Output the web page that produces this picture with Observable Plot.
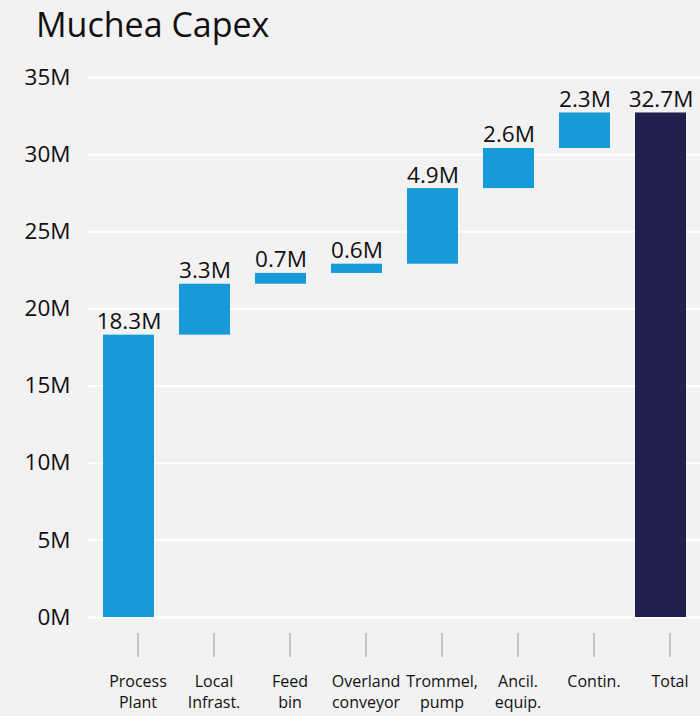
<!DOCTYPE html>
<html><head><meta charset="utf-8">
<script src="https://cdn.jsdelivr.net/npm/d3@7"></script>
<script src="https://cdn.jsdelivr.net/npm/@observablehq/plot@0.6"></script>
<style>
html,body{margin:0;padding:0;background:#f2f2f2;}
#title{height:60px;font-family:"Open Sans",sans-serif;font-size:34px;color:#111;padding-left:36px;line-height:48px;box-sizing:border-box;}
#chart svg{display:block;}
</style></head>
<body>
<div id="title">Muchea Capex</div>
<div id="chart"></div>
<script>
const categories = ["Process Plant","Local Infrast.","Feed bin","Overland conveyor","Trommel, pump","Ancil. equip.","Contin.","Total"];
const axisLabels = ["Process\nPlant","Local\nInfrast.","Feed\nbin","Overland\nconveyor","Trommel,\npump","Ancil.\nequip.","Contin.","Total"];
const increments = [18.3, 3.3, 0.7, 0.6, 4.9, 2.6, 2.3];
const total = 32.7;
const yTicks = [0,5,10,15,20,25,30,35];

const ends = Array.from(d3.cumsum(increments));
const rows = increments.map((v,i)=>({cat:categories[i], start: i===0?0:ends[i-1], end: ends[i], value:v, kind:"step"}));
rows.push({cat:categories[7], start:0, end:total, value:total, kind:"total"});
const labelOf = new Map(categories.map((c,i)=>[c, axisLabels[i]]));

const chart = Plot.plot({
  width: 700, height: 656,
  marginLeft: 88, marginRight: 0, marginTop: 17, marginBottom: 99,
  style: {background:"#f2f2f2", fontFamily:"Open Sans, sans-serif", color:"#111"},
  x: {domain: categories, paddingInner: 0.33, paddingOuter: 0.18, label: null},
  y: {domain: [0,35], label: null},
  marks: [
    Plot.gridY(yTicks, {stroke:"#ffffff", strokeOpacity:1, strokeWidth:2}),
    Plot.barY(rows, {x:"cat", y1:"start", y2:"end", fill: d => d.kind==="total" ? "#221f4f" : "#179bd8"}),
    Plot.text(rows, {x:"cat", y:"end", text: d => d.value.toFixed(1)+"M", dy:-6, lineAnchor:"bottom", fontSize:22.5, fill:"#111"}),
    Plot.axisY(yTicks, {tickSize:0, tickPadding:18, tickFormat: d => d+"M", fontSize:22.5, fill:"#111"}),
    Plot.axisX({tickSize:24, dy:16, dx:9, tickPadding:15, stroke:"#999", tickFormat: d => labelOf.get(d), fontSize:16, lineHeight:1.3, fill:"#111"})
  ]
});
document.getElementById("chart").appendChild(chart);
</script>
</body></html>
